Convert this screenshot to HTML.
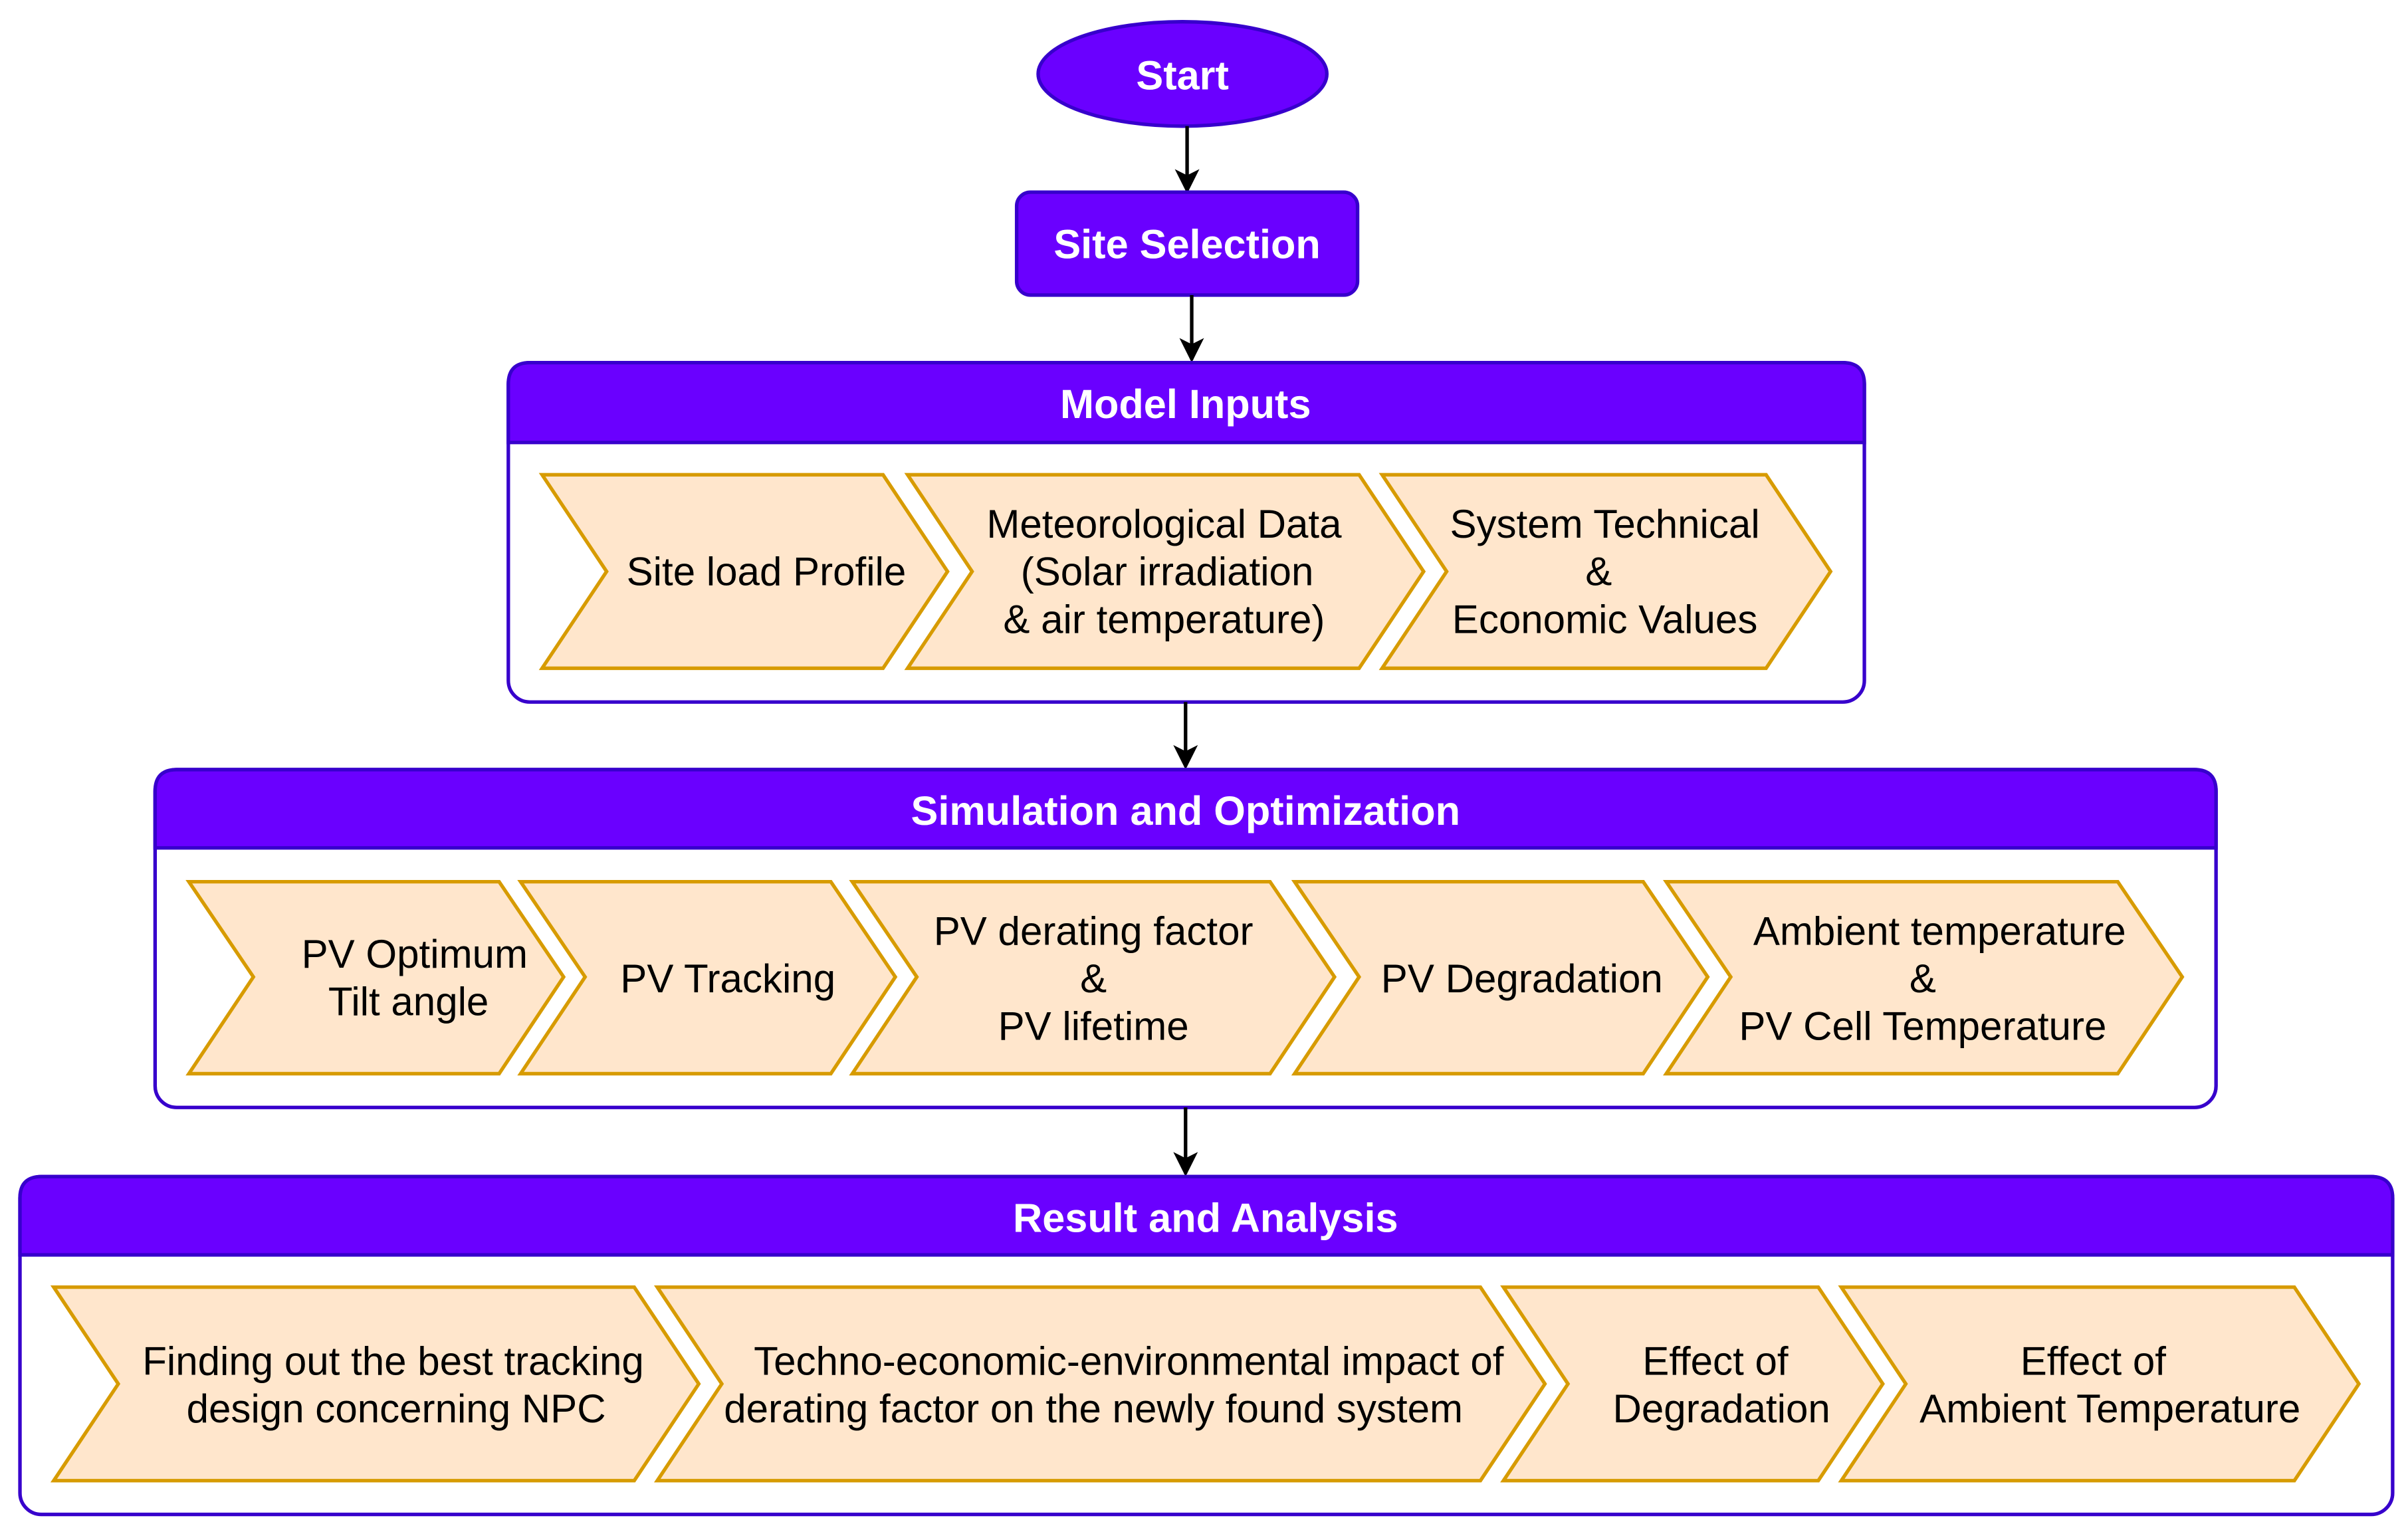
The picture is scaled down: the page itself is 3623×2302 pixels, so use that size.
<!DOCTYPE html>
<html><head><meta charset="utf-8"><style>
html,body{margin:0;padding:0;background:#fff;}
svg{display:block;}
text{font-family:"Liberation Sans",Arial,sans-serif;}
.h{font-weight:bold;fill:#fff;font-size:26.5px;}
.t{fill:#000;font-size:26px;}
.c{fill:#ffe6cc;stroke:#d79b00;stroke-width:2.3;}
.box{fill:#fff;stroke:#3700cc;stroke-width:2.3;}
.hd{fill:#6a00ff;stroke:#3700cc;stroke-width:2.3;}
.ar{stroke:#000;stroke-width:2.3;fill:none;}
</style></head><body>
<svg width="3623" height="2302" viewBox="0 0 1568 996" xmlns="http://www.w3.org/2000/svg">
<defs><marker id="m" markerWidth="20" markerHeight="20" refX="14" refY="8" orient="auto" markerUnits="userSpaceOnUse"><path d="M0,0 L16,8 L0,16 L4,8 z" fill="#000"/></marker></defs>

<ellipse cx="770" cy="48" rx="94" ry="34" class="hd" stroke-width="3"/>
<text x="770" y="58" text-anchor="middle" class="h" font-size="28">Start</text>
<line x1="773" y1="82" x2="773" y2="124" class="ar" marker-end="url(#m)"/>

<rect x="662" y="125" width="222" height="67" rx="9" class="hd" stroke-width="3"/>
<text x="773" y="168" text-anchor="middle" class="h">Site Selection</text>
<line x1="776" y1="192" x2="776" y2="234" class="ar" marker-end="url(#m)"/>

<!-- Model Inputs -->
<rect x="331" y="236" width="883" height="221" rx="14" class="box"/>
<path d="M331,288 V250 Q331,236 345,236 H1200 Q1214,236 1214,250 V288 Z" class="hd"/>
<text x="772" y="272" text-anchor="middle" class="h">Model Inputs</text>
<polygon class="c" points="353,309 575,309 617,372 575,435 353,435 395,372"/>
<polygon class="c" points="591,309 885,309 927,372 885,435 591,435 633,372"/>
<polygon class="c" points="900,309 1150,309 1192,372 1150,435 900,435 942,372"/>
<text x="499" y="381" text-anchor="middle" class="t">Site load Profile</text>
<text x="758" y="350" text-anchor="middle" class="t">Meteorological Data</text>
<text x="760" y="381" text-anchor="middle" class="t">(Solar irradiation</text>
<text x="758" y="412" text-anchor="middle" class="t">&amp; air temperature)</text>
<text x="1045" y="350" text-anchor="middle" class="t">System Technical</text>
<text x="1041" y="381" text-anchor="middle" class="t">&amp;</text>
<text x="1045" y="412" text-anchor="middle" class="t">Economic Values</text>
<line x1="772" y1="457" x2="772" y2="499" class="ar" marker-end="url(#m)"/>

<!-- Simulation -->
<rect x="101" y="501" width="1342" height="220" rx="14" class="box"/>
<path d="M101,552 V515 Q101,501 115,501 H1429 Q1443,501 1443,515 V552 Z" class="hd"/>
<text x="772" y="537" text-anchor="middle" class="h">Simulation and Optimization</text>
<polygon class="c" points="123,574 325,574 367,636 325,699 123,699 165,636"/>
<polygon class="c" points="339,574 541,574 583,636 541,699 339,699 381,636"/>
<polygon class="c" points="555,574 827,574 869,636 827,699 555,699 597,636"/>
<polygon class="c" points="843,574 1070,574 1112,636 1070,699 843,699 885,636"/>
<polygon class="c" points="1085,574 1379,574 1421,636 1379,699 1085,699 1127,636"/>
<text x="270" y="630" text-anchor="middle" class="t">PV Optimum</text>
<text x="266" y="661" text-anchor="middle" class="t">Tilt angle</text>
<text x="474" y="646" text-anchor="middle" class="t">PV Tracking</text>
<text x="712" y="615" text-anchor="middle" class="t">PV derating factor</text>
<text x="712" y="646" text-anchor="middle" class="t">&amp;</text>
<text x="712" y="677" text-anchor="middle" class="t">PV lifetime</text>
<text x="991" y="646" text-anchor="middle" class="t">PV Degradation</text>
<text x="1263" y="615" text-anchor="middle" class="t">Ambient temperature</text>
<text x="1252" y="646" text-anchor="middle" class="t">&amp;</text>
<text x="1252" y="677" text-anchor="middle" class="t">PV Cell Temperature</text>
<line x1="772" y1="721" x2="772" y2="764" class="ar" marker-end="url(#m)"/>

<!-- Result -->
<rect x="13" y="766" width="1545" height="220" rx="14" class="box"/>
<path d="M13,817 V780 Q13,766 27,766 H1544 Q1558,766 1558,780 V817 Z" class="hd"/>
<text x="785" y="802" text-anchor="middle" class="h">Result and Analysis</text>
<polygon class="c" points="35,838 413,838 455,901 413,964 35,964 77,901"/>
<polygon class="c" points="428,838 964,838 1006,901 964,964 428,964 470,901"/>
<polygon class="c" points="979,838 1184,838 1226,901 1184,964 979,964 1021,901"/>
<polygon class="c" points="1199,838 1494,838 1536,901 1494,964 1199,964 1241,901"/>
<text x="256" y="895" text-anchor="middle" class="t">Finding out the best tracking</text>
<text x="258" y="926" text-anchor="middle" class="t">design concerning NPC</text>
<text x="735" y="895" text-anchor="middle" class="t">Techno-economic-environmental impact of</text>
<text x="712" y="926" text-anchor="middle" class="t">derating factor on the newly found system</text>
<text x="1117" y="895" text-anchor="middle" class="t">Effect of</text>
<text x="1121" y="926" text-anchor="middle" class="t">Degradation</text>
<text x="1363" y="895" text-anchor="middle" class="t">Effect of</text>
<text x="1374" y="926" text-anchor="middle" class="t">Ambient Temperature</text>
</svg>
</body></html>
